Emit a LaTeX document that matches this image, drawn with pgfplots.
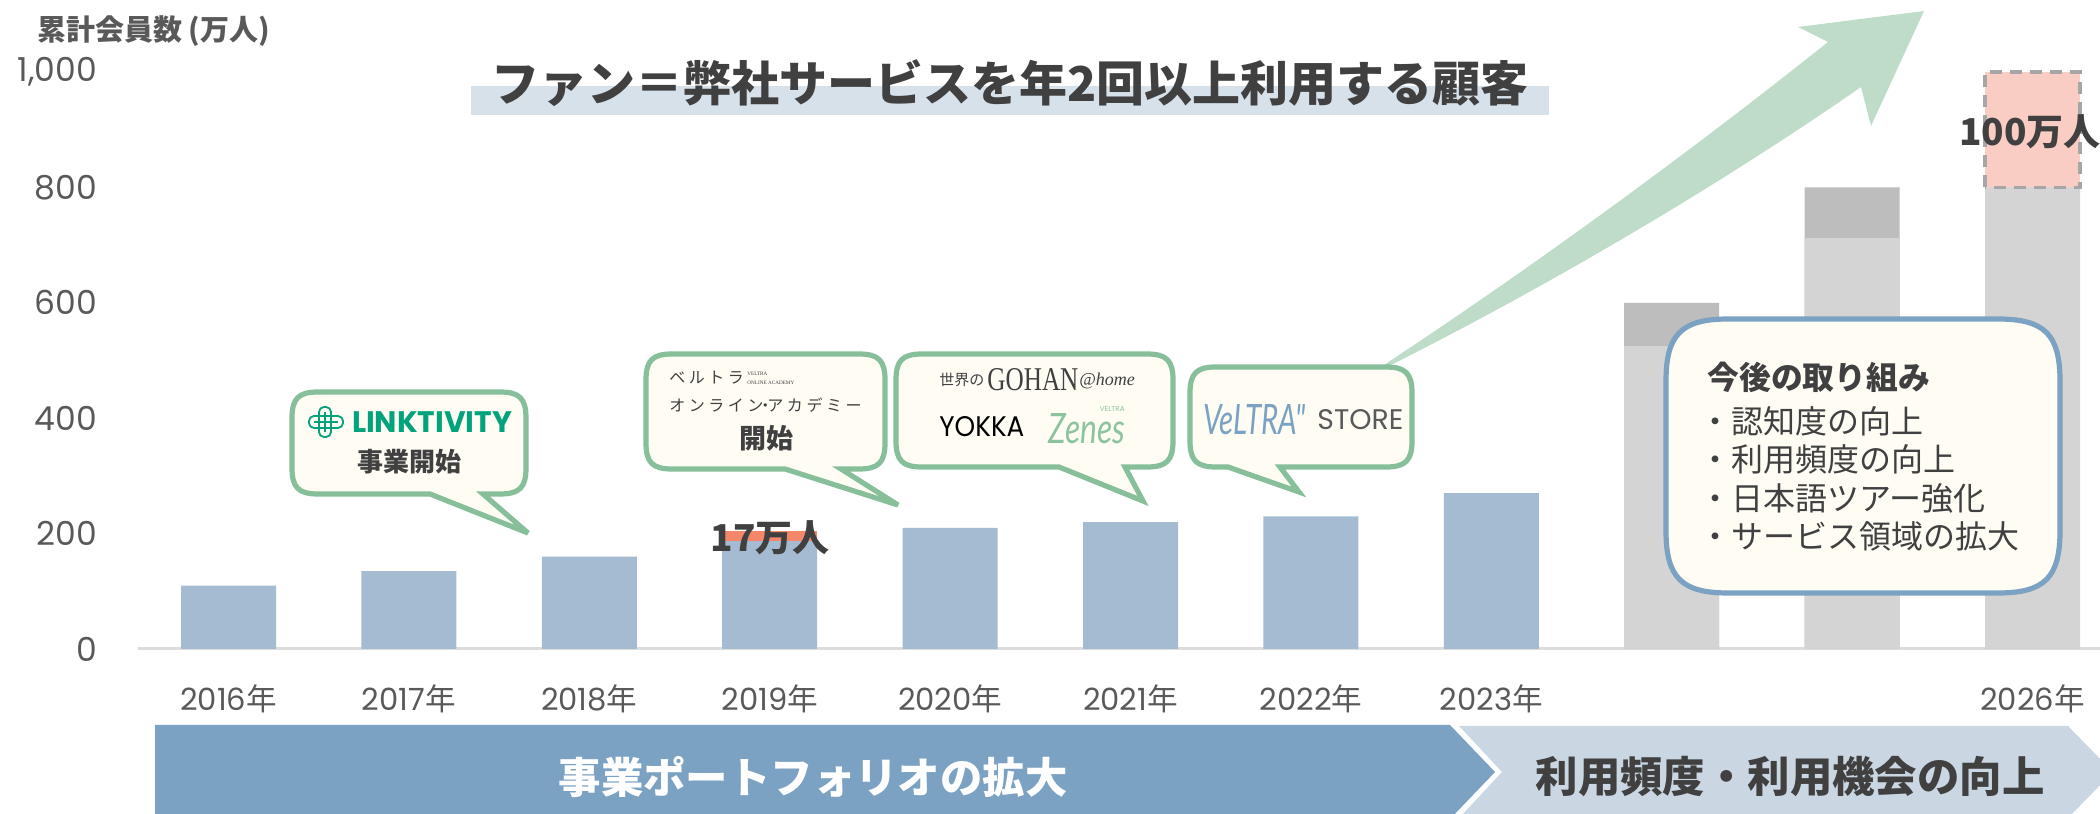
\documentclass[border=0pt]{standalone}
\usepackage{fontspec}
\usepackage{pgfplots}
\pgfplotsset{compat=1.18}
\setmainfont{Poppins}
\newfontfamily\cjk{Noto Sans CJK JP}
\newfontfamily\cjkt[LetterSpace=22]{Noto Sans CJK JP}
\newfontfamily\serif{Liberation Serif}
\newfontfamily\lato{Lato}
\newcommand\fs[1]{\fontsize{#1}{#1}\selectfont}
\newcommand\nen[1]{#1{\cjk 年}}

\definecolor{barblue}{HTML}{A4BBD2}
\definecolor{barorange}{HTML}{F4876A}
\definecolor{lightgray}{HTML}{D4D4D4}
\definecolor{darkgray}{HTML}{BDBDBD}
\definecolor{pinkbar}{HTML}{F9CDC3}
\definecolor{dashgray}{HTML}{A6A6A6}
\definecolor{arrowgreen}{HTML}{BFDCC9}
\definecolor{callgreen}{HTML}{86BF9A}
\definecolor{callfill}{HTML}{FFFCF4}
\definecolor{boxblue}{HTML}{7BA1C3}
\definecolor{paleblue}{HTML}{CAD7E3}
\definecolor{band}{HTML}{D6E1EA}
\definecolor{txt}{HTML}{404040}
\definecolor{ticktxt}{HTML}{595959}
\definecolor{axisline}{HTML}{DCDCDC}
\definecolor{linkgreen}{HTML}{00A37A}
\definecolor{zenes}{HTML}{8CC49F}

% speech bubble: left top right bottom tailA tailB tipx tipy colour, corner size in \rr
\def\rr{26}
\newcommand\bubble[9]{%
  \draw[draw=#9,fill=callfill,line width=2.6pt,line join=miter,miter limit=4]
    (#1+\rr,#2) -- (#3-\rr,#2) .. controls (#3-0.25*\rr,#2) and (#3,#2+0.25*\rr) .. (#3,#2+\rr)
    -- (#3,#4-\rr) .. controls (#3,#4-0.25*\rr) and (#3-0.25*\rr,#4) .. (#3-\rr,#4)
    -- (#6,#4) -- (#7,#8) -- (#5,#4)
    -- (#1+\rr,#4) .. controls (#1+0.25*\rr,#4) and (#1,#4-0.25*\rr) .. (#1,#4-\rr)
    -- (#1,#2+\rr) .. controls (#1,#2+0.25*\rr) and (#1+0.25*\rr,#2) .. (#1+\rr,#2) -- cycle;}

\begin{document}
\begin{tikzpicture}
\path[use as bounding box] (0,0) rectangle (1050pt,407pt);

\begin{axis}[
    at={(69pt,82.5pt)}, anchor=south west,
    scale only axis,
    width=981pt, height=288.5pt,
    xmin=-0.5017, xmax=10.374,
    ymin=0, ymax=1000,
    clip=false,
    axis lines=left,
    axis line style={-},
    y axis line style={draw=none},
    x axis line style={draw=axisline,line width=1.5pt},
    major tick length=0pt,
    xtick={0,1,2,3,4,5,6,7,8,9,10},
    xticklabels={\nen{2016},\nen{2017},\nen{2018},\nen{2019},\nen{2020},\nen{2021},\nen{2022},\nen{2023},{},{},\nen{2026}},
    ytick={0,200,400,600,800,1000},
    xticklabel style={font=\fs{15.3}, text=ticktxt, anchor=center, yshift=-25pt},
    yticklabel style={font=\fs{16.5}, text=ticktxt, anchor=east, xshift=-17pt},
    /pgf/number format/assume math mode=true,
    /pgf/number format/1000 sep={,},
    ylabel={\cjk\bfseries 累計会員数 (万人)},
    every axis y label/.style={at={(axis description cs:0,1)},anchor=west,
        xshift=-54pt,yshift=20.5pt,font=\fs{14.5},text=ticktxt},
]
% upper parts first, the lower part is laid over them
\addplot[ybar,bar width=47.5pt,bar shift=0pt,fill=barorange,draw=none]
  coordinates {(3,204)};
\addplot[ybar,bar width=47.5pt,bar shift=0pt,fill=darkgray,draw=none]
  coordinates {(8,600) (9,800)};
\addplot[ybar,bar width=47.5pt,bar shift=0pt,fill=pinkbar,draw=none]
  coordinates {(10,1000)};
\addplot[ybar,bar width=47.5pt,bar shift=0pt,fill=barblue,draw=none]
  coordinates {(0,110) (1,135) (2,160) (3,187) (4,210) (5,220) (6,230) (7,270)};
\addplot[ybar,bar width=47.5pt,bar shift=0pt,fill=lightgray,draw=none]
  coordinates {(8,525) (9,712) (10,800)};
\addplot[draw=dashgray,line width=1.6pt,dash pattern=on 6pt off 4pt,no marks]
  coordinates {(9.7367,800) (9.7367,1000) (10.2633,1000) (10.2633,800) (9.7367,800)};
\end{axis}

\begin{scope}[shift={(0,407pt)},x=0.5pt,y=-0.5pt]
\clip (0,0) rectangle (2100,814);

% title
\fill[band] (471,86) rectangle (1549,115);
\node[text=txt,font=\fs{24}\cjk\bfseries] at (1010,83) {ファン＝弊社サービスを年2回以上利用する顧客};

% green arrow
\fill[arrowgreen] (1384,365) .. controls (1525,272) and (1680,160) .. (1828,42)
  -- (1798,27) -- (1924,11) -- (1871,126) -- (1861,87)
  .. controls (1720,185) and (1550,285) .. (1391,365) -- cycle;

% chevrons
\fill[paleblue] (1459,726) -- (2068,726) -- (2113,772) -- (2068,818) -- (1459,818) -- (1502,772) -- cycle;
\fill[boxblue] (155,725) -- (1450,725) -- (1495,772) -- (1450,819) -- (155,819) -- cycle;
\node[text=white,font=\fs{21.2}\cjk\bfseries] at (813,777) {事業ポートフォリオの拡大};
\node[text=txt,font=\fs{21.2}\cjk\bfseries] at (1790,777) {利用頻度・利用機会の向上};

% callouts
\bubble{292}{392}{526}{494}{430}{483}{528}{533}{callgreen}
\bubble{646}{354}{885}{469}{785}{841}{898}{505}{callgreen}
\bubble{896}{354}{1173}{467}{1059}{1125}{1143}{501}{callgreen}
\bubble{1190}{367}{1412}{467}{1228}{1280}{1299}{492}{callgreen}

% LINKTIVITY
\draw[linkgreen,line width=0.9pt,rounded corners=2.5pt] (309,416) rectangle (343,428);
\draw[linkgreen,line width=0.9pt,rounded corners=2.5pt] (319,407) rectangle (331,437);
\draw[linkgreen,line width=0.6pt] (325,412) -- (325,432) (314,422) -- (338,422);
\node[text=linkgreen,font=\bfseries] at (432,422) {\resizebox{80pt}{!}{LINKTIVITY}};
\node[text=txt,font=\fs{13}\cjk\bfseries] at (409,462) {事業開始};

% online academy
\node[anchor=west,inner sep=0pt,text=txt,font=\fs{8}\cjkt] at (669,378) {ベルトラ};
\node[anchor=west,inner sep=0pt,text=txt,font=\fs{2.6}\serif] at (747,374) {VELTRA};
\node[anchor=west,inner sep=0pt,text=txt,font=\fs{2.6}\serif] at (747,383) {ONLINE ACADEMY};
\node[anchor=west,inner sep=0pt,text=txt,font=\fs{8}\cjkt] at (669,405) {オンライン\kern-3pt・\kern-3ptアカデミー};
\node[text=txt,font=\fs{13.5}\cjk\bfseries] at (766,438) {開始};

% gohan, yokka, zenes
\node[anchor=west,inner sep=0pt,text=txt,font=\fs{7.5}\cjk] at (939,380) {世界の};
\node[anchor=west,inner sep=0pt,text=txt] at (987,380) {\resizebox{45.5pt}{11pt}{\serif GOHAN}};
\node[anchor=west,inner sep=0pt,text=txt,font=\fs{9}\serif\itshape] at (1079,381) {@home};
\node[anchor=west,inner sep=0pt,text=black] at (939,427) {\resizebox{42.5pt}{10pt}{YOKKA}};
\node[anchor=west,inner sep=0pt,text=zenes] at (1048,429) {\resizebox{38.5pt}{15pt}{\lato\itshape Zenes}};
\node[anchor=east,inner sep=0pt,text=zenes,font=\fs{3.6}] at (1125,409) {VELTRA};

% store
\node[anchor=west,inner sep=0pt,text=boxblue] at (1203,420) {\resizebox{51pt}{15pt}{\lato\itshape VeLTRA"}};
\node[anchor=west,inner sep=0pt,text=ticktxt] at (1317,420) {\resizebox{43pt}{!}{STORE}};

% data notes
\node[text=txt,font=\fs{18.5}\cjk\bfseries] at (770,538) {17万人};
\node[text=txt,font=\fs{18.5}\cjk\bfseries] at (2030,132) {100万人};

% plans box
\def\rr{62}
\bubble{1666}{319}{2060}{593}{1800}{1800}{1800}{593}{boxblue}
\node[anchor=west,inner sep=0pt,text=txt,font=\fs{15.9}\cjk\bfseries] at (1707,377) {今後の取り組み};
\node[anchor=west,inner sep=0pt,text=txt,font=\fs{16}\cjk] at (1699,421) {・認知度の向上};
\node[anchor=west,inner sep=0pt,text=txt,font=\fs{16}\cjk] at (1699,459) {・利用頻度の向上};
\node[anchor=west,inner sep=0pt,text=txt,font=\fs{16}\cjk] at (1699,498) {・日本語ツアー強化};
\node[anchor=west,inner sep=0pt,text=txt,font=\fs{16}\cjk] at (1699,536) {・サービス領域の拡大};
\end{scope}
\end{tikzpicture}
\end{document}
